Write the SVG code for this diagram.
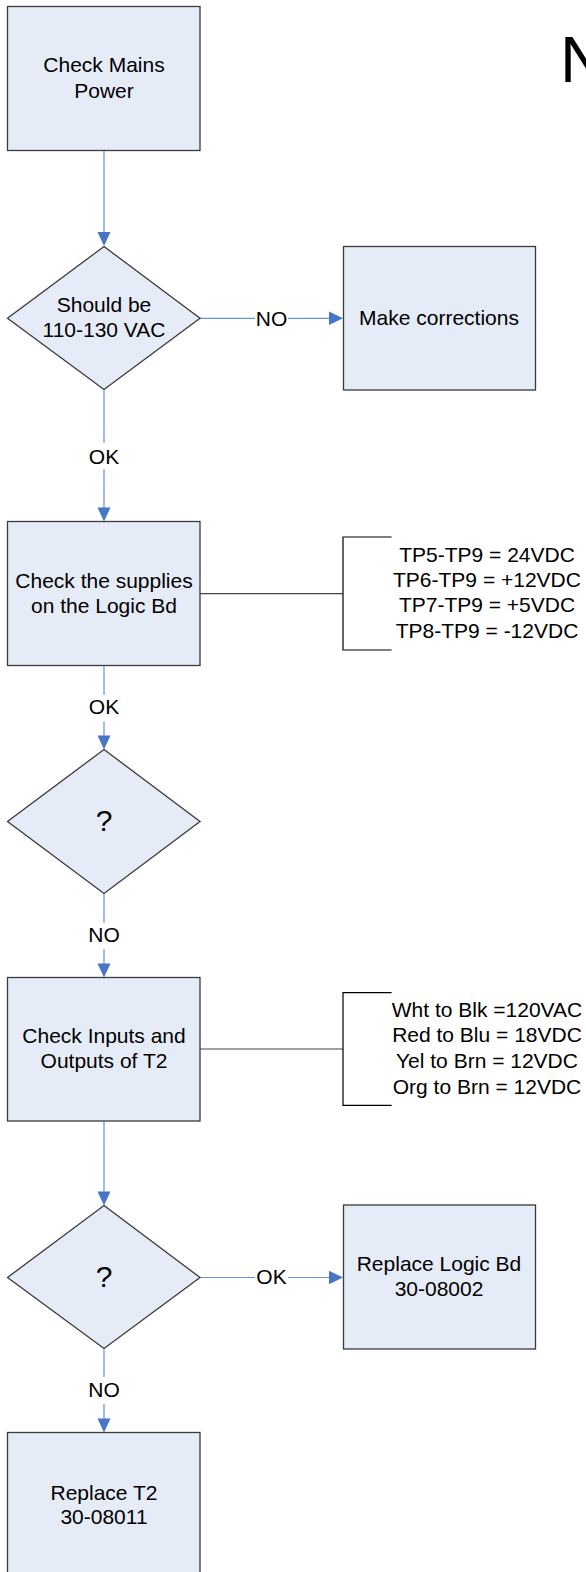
<svg xmlns="http://www.w3.org/2000/svg" width="586" height="1572" viewBox="0 0 586 1572">
<style>
.node{fill:#e6ecf7;stroke:#3a3a3a;stroke-width:1.3}
.t{font-family:"Liberation Sans",Arial,sans-serif;font-size:21px;fill:#000;text-anchor:middle}
.q{font-size:30px}
.conn{stroke:#6a92d4;stroke-width:1.2;fill:none}
.ah{fill:#4677c6}
.ann{stroke:#000;stroke-width:1.2;fill:none}
.annl{stroke:#444;stroke-width:1.2;fill:none}
</style>
<rect width="586" height="1572" fill="#fff"/>
<text x="560" y="82" style="font-family:'Liberation Sans',Arial,sans-serif;font-size:65px;fill:#000">N</text>

<g id="connectors">
  <line class="conn" x1="104" y1="150.5" x2="104" y2="233"/>
  <polygon class="ah" points="104,246 97.5,232 110.5,232"/>

  <line class="conn" x1="200" y1="318.3" x2="255" y2="318.3"/>
  <line class="conn" x1="288" y1="318.3" x2="330" y2="318.3"/>
  <polygon class="ah" points="343,318.3 329,311.5 329,325"/>
  <text class="t" x="271.5" y="325.5">NO</text>

  <line class="conn" x1="104" y1="389.5" x2="104" y2="443"/>
  <line class="conn" x1="104" y1="469" x2="104" y2="508.5"/>
  <polygon class="ah" points="104,521.5 97.5,507.5 110.5,507.5"/>
  <text class="t" x="104" y="463.5">OK</text>

  <line class="conn" x1="104" y1="665.5" x2="104" y2="695"/>
  <line class="conn" x1="104" y1="721.5" x2="104" y2="736.5"/>
  <polygon class="ah" points="104,749.5 97.5,735.5 110.5,735.5"/>
  <text class="t" x="104" y="713.5">OK</text>

  <line class="conn" x1="104" y1="893.5" x2="104" y2="923"/>
  <line class="conn" x1="104" y1="949" x2="104" y2="964.5"/>
  <polygon class="ah" points="104,977.5 97.5,963.5 110.5,963.5"/>
  <text class="t" x="104" y="941.7">NO</text>

  <line class="conn" x1="104" y1="1121" x2="104" y2="1192.5"/>
  <polygon class="ah" points="104,1205.5 97.5,1191.5 110.5,1191.5"/>

  <line class="conn" x1="200" y1="1277.5" x2="255" y2="1277.5"/>
  <line class="conn" x1="288" y1="1277.5" x2="330" y2="1277.5"/>
  <polygon class="ah" points="343,1277.5 329,1270.7 329,1284.3"/>
  <text class="t" x="271.5" y="1284">OK</text>

  <line class="conn" x1="104" y1="1348.5" x2="104" y2="1377"/>
  <line class="conn" x1="104" y1="1404" x2="104" y2="1419.5"/>
  <polygon class="ah" points="104,1432.5 97.5,1418.5 110.5,1418.5"/>
  <text class="t" x="104" y="1396.7">NO</text>

  <line class="annl" x1="200" y1="593.7" x2="343" y2="593.7"/>
  <path class="ann" d="M391.6,537 H343 V650 H391.6"/>
  <line class="annl" x1="200" y1="1049" x2="343" y2="1049"/>
  <path class="ann" d="M391.6,992.7 H343 V1105.3 H391.6"/>
</g>

<g id="n-check-mains">
  <rect class="node" x="7.5" y="6.5" width="192.5" height="144"/>
  <text class="t" x="104" y="72">Check Mains</text>
  <text class="t" x="104" y="97.5">Power</text>
</g>
<g id="n-should-be">
  <polygon class="node" points="104,246.5 200,318.3 104,389.5 7.5,318.3"/>
  <text class="t" x="104" y="311.7">Should be</text>
  <text class="t" x="104" y="336.7">110-130 VAC</text>
</g>
<g id="n-make-corrections">
  <rect class="node" x="343.5" y="246.5" width="192" height="143.5"/>
  <text class="t" x="439" y="325">Make corrections</text>
</g>
<g id="n-check-supplies">
  <rect class="node" x="7.5" y="521.5" width="192.5" height="144"/>
  <text class="t" x="104" y="588.3">Check the supplies</text>
  <text class="t" x="104" y="612.7">on the Logic Bd</text>
</g>
<g id="n-supplies-values">
  <text class="t" x="487" y="561.7">TP5-TP9 = 24VDC</text>
  <text class="t" x="487" y="587.3">TP6-TP9 = +12VDC</text>
  <text class="t" x="487" y="612.3">TP7-TP9 = +5VDC</text>
  <text class="t" x="487" y="638.3">TP8-TP9 = -12VDC</text>
</g>
<g id="n-decision-2">
  <polygon class="node" points="104,749.5 200,821.5 104,893.5 7.5,821.5"/>
  <text class="t q" x="104" y="831">?</text>
</g>
<g id="n-check-t2">
  <rect class="node" x="7.5" y="977.5" width="192.5" height="143.5"/>
  <text class="t" x="104" y="1042.7">Check Inputs and</text>
  <text class="t" x="104" y="1068.3">Outputs of T2</text>
</g>
<g id="n-t2-values">
  <text class="t" x="487" y="1016.7">Wht to Blk =120VAC</text>
  <text class="t" x="487" y="1042.3">Red to Blu = 18VDC</text>
  <text class="t" x="487" y="1068.3">Yel to Brn = 12VDC</text>
  <text class="t" x="487" y="1094">Org to Brn = 12VDC</text>
</g>
<g id="n-decision-3">
  <polygon class="node" points="104,1205.5 200,1277.5 104,1348.5 7.5,1277.5"/>
  <text class="t q" x="104" y="1287">?</text>
</g>
<g id="n-replace-logic">
  <rect class="node" x="343.5" y="1205" width="192" height="144"/>
  <text class="t" x="439" y="1270.7">Replace Logic Bd</text>
  <text class="t" x="439" y="1295.7">30-08002</text>
</g>
<g id="n-replace-t2">
  <rect class="node" x="7.5" y="1432.5" width="192.5" height="144"/>
  <text class="t" x="104" y="1500">Replace T2</text>
  <text class="t" x="104" y="1524.3">30-08011</text>
</g>
</svg>
